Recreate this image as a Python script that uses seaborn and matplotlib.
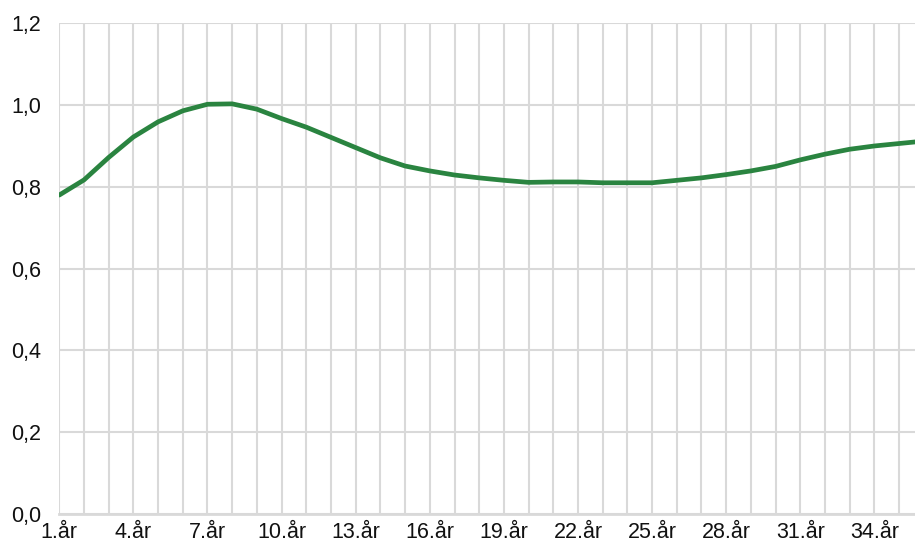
import matplotlib
matplotlib.use("Agg")
import matplotlib.pyplot as plt
import seaborn as sns
import pandas as pd

# Daten
years = [f"{i}.år" for i in range(1, 37)]
values = [0.780, 0.817, 0.872, 0.922, 0.959, 0.986, 1.002, 1.003, 0.990, 0.967,
          0.946, 0.921, 0.896, 0.871, 0.851, 0.839, 0.829, 0.822, 0.816, 0.811,
          0.812, 0.812, 0.810, 0.810, 0.810, 0.816, 0.822, 0.830, 0.839, 0.850,
          0.866, 0.880, 0.892, 0.900, 0.906, 0.912]
y_ticks = [0.0, 0.2, 0.4, 0.6, 0.8, 1.0, 1.2]

line_color = "#2a8440"
grid_color = "#d9d9d9"

sns.set_theme(style="white")
plt.rcParams["font.family"] = ["Liberation Sans", "DejaVu Sans"]

df = pd.DataFrame({"aar": years, "verdi": values})
df["pos"] = range(len(df))

fig = plt.figure(figsize=(9.15, 5.41), dpi=100)
ax = fig.add_axes([59.3 / 915, 27 / 541, (915 - 59.3) / 915, (514 - 23.3) / 541])

# vertikale Gitterlinien für jede Kategorie
for p in df["pos"]:
    ax.axvline(p, color=grid_color, lw=1.5, zorder=0)
for t in y_ticks:
    ax.axhline(t, color=grid_color, lw=1.5, zorder=0)

sns.lineplot(data=df, x="pos", y="verdi", color=line_color, lw=3.4, ax=ax,
             sort=False, zorder=3)

ax.set_xlim(0, (915 - 59.3) / 24.7)
ax.set_ylim(0, 1.2)
ax.set_yticks(y_ticks)
ax.set_yticklabels([f"{t:.1f}".replace(".", ",") for t in y_ticks])
tick_pos = list(range(0, len(years), 3))
ax.set_xticks(tick_pos)
ax.set_xticklabels([years[i] for i in tick_pos])
ax.tick_params(axis="both", length=0, labelsize=15.5, colors="#111111")
ax.tick_params(axis="y", pad=13)
ax.tick_params(axis="x", pad=5.5)
ax.set_xlabel("")
ax.set_ylabel("")
for s in ["top", "right", "left"]:
    ax.spines[s].set_visible(False)
ax.spines["bottom"].set_color(grid_color)
ax.spines["bottom"].set_linewidth(2)

fig.savefig("out.png", dpi=100)
